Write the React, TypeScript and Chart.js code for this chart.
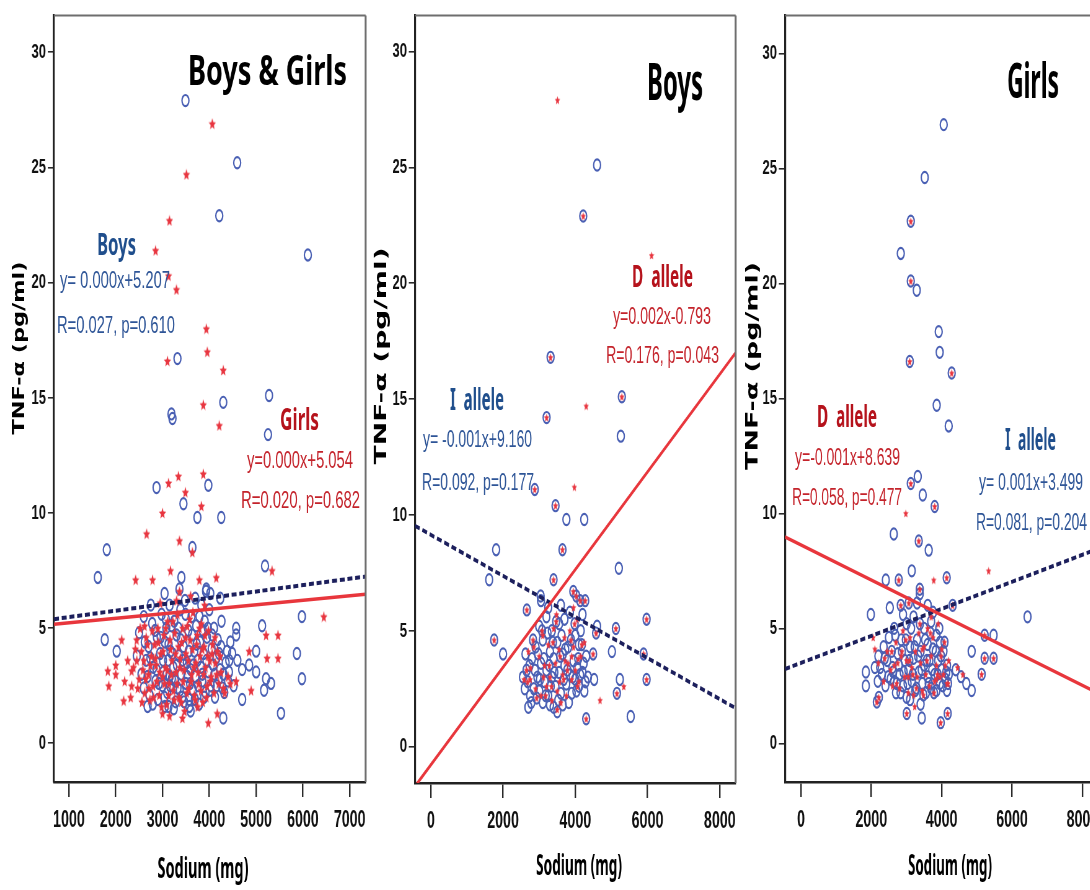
import React, { useEffect, useRef } from "react";
import { Chart, registerables } from "chart.js";
Chart.register(...registerables);

// horizontal squeeze of the whole figure (the reference is compressed sideways)
const K = 0.62;
const H = 890;

// ---------- tick labels ----------
const yTicks = [0, 5, 10, 15, 20, 25, 30];
const xTicksAll = [1000, 2000, 3000, 4000, 5000, 6000, 7000];
const xTicksSex = [0, 2000, 4000, 6000, 8000];

type P = [number, number];

// ---------- Panel 1: Boys & Girls ----------
const p1Boys: P[] = [
  [3490, 27.9], [4596, 25.2], [4213, 22.9], [6106, 21.2], [3319, 16.7], [5277, 15.1], [4298, 14.8],
  [3191, 14.3], [3213, 14.1], [5255, 13.4], [2872, 11.1], [3979, 11.2], [3447, 10.4], [3745, 9.8],
  [4255, 9.8], [1809, 8.4], [3638, 8.5], [1617, 7.2], [5191, 7.7], [3404, 7.2], [3936, 6.7],
  [3043, 6.5], [4021, 6.5], [4234, 6.3], [3362, 6.7], [3930, 6.6],
  [1766, 4.5], [2021, 4.0], [5979, 5.5], [5872, 3.9], [5979, 2.8], [5532, 1.3], [5128, 5.1],
  [5000, 4.0], [5213, 2.8], [5319, 2.6], [5170, 2.3], [5000, 3.1], [4851, 3.4], [4702, 1.9],
  [4702, 3.2], [4574, 5.0], [4574, 4.7], [4489, 3.9], [4426, 3.6], [4298, 1.1], [2681, 1.6],
  [3128, 1.6], [3574, 1.6],
  [2550, 3.0], [2600, 2.4], [2650, 3.6], [2700, 4.2], [2720, 2.1], [2780, 5.2], [2800, 3.3],
  [2850, 2.7], [2880, 4.6], [2900, 1.9], [2950, 3.9], [2980, 5.6], [3000, 2.5], [3020, 3.1],
  [3050, 4.4], [3080, 5.0], [3100, 2.2], [3120, 3.6], [3150, 6.0], [3170, 4.0], [3200, 2.8],
  [3230, 3.3], [3250, 5.3], [3280, 1.8], [3300, 4.7], [3320, 2.4], [3350, 3.8], [3380, 5.8],
  [3400, 3.0], [3420, 2.0], [3450, 4.2], [3480, 6.2], [3500, 2.6], [3520, 3.5], [3550, 4.9],
  [3570, 1.9], [3600, 3.2], [3620, 5.5], [3650, 2.3], [3680, 4.0], [3700, 2.9], [3720, 5.1],
  [3750, 3.6], [3780, 1.7], [3800, 4.4], [3830, 6.0], [3850, 2.7], [3880, 3.9], [3900, 5.3],
  [3920, 2.2], [3950, 4.6], [3980, 3.1], [4000, 5.8], [4030, 2.5], [4050, 4.1], [4080, 3.4],
  [4100, 5.0], [4120, 2.0], [4150, 3.7], [4180, 4.5], [4200, 2.8], [4230, 3.2], [4250, 4.2],
  [4280, 2.4], [4300, 3.0], [4350, 3.5], [4400, 2.7], [4450, 4.4], [2450, 3.8], [2500, 4.8],
  [2600, 5.5], [2750, 6.0], [3050, 1.6], [3600, 1.4], [3700, 6.3], [3150, 2.9], [3450, 3.4],
  [3850, 3.0],
  [2620, 4.4], [2680, 2.9], [2740, 3.7], [2790, 1.7], [2840, 4.9], [2870, 3.2], [2920, 2.6],
  [2960, 4.6], [3010, 3.6], [3040, 2.0], [3070, 5.4], [3090, 3.0], [3130, 4.3], [3160, 2.5],
  [3190, 5.1], [3210, 3.9], [3240, 1.5], [3270, 2.7], [3310, 3.4], [3340, 5.0], [3370, 2.3],
  [3390, 4.5], [3430, 3.6], [3460, 1.8], [3490, 5.6], [3530, 2.9], [3560, 4.0], [3590, 2.6],
  [3630, 4.7], [3660, 3.4], [3690, 1.9], [3730, 4.3], [3760, 2.5], [3790, 5.5], [3820, 3.3],
  [3860, 4.9], [3890, 2.0], [3940, 3.6], [3970, 5.0], [4010, 2.3], [4060, 4.7], [4110, 3.0],
  [4160, 2.5], [4210, 3.9], [4260, 5.3], [4320, 2.2], [4380, 4.0], [4420, 3.1], [4520, 2.5],
  [4600, 3.6],
];
const p1Girls: P[] = [
  [4064, 26.9], [3511, 24.7], [3149, 22.7], [2851, 21.4], [3128, 20.3], [3298, 19.7], [3936, 18.0],
  [3957, 17.0], [3106, 16.6], [4298, 16.2], [3872, 14.7], [4213, 13.8], [3128, 11.3], [3340, 11.6],
  [3872, 11.7], [3489, 10.9], [3830, 10.3], [3000, 10.0], [2660, 9.1], [3362, 8.8], [3638, 8.3],
  [5340, 7.5], [2425, 7.1], [2787, 7.1], [3170, 7.5], [3787, 7.1], [4149, 7.2], [3362, 6.6],
  [6447, 5.5], [5468, 4.7], [5468, 3.7], [5213, 4.7], [5234, 3.7], [4851, 4.0], [4894, 2.3],
  [4574, 2.7], [3979, 0.9], [4170, 1.3], [3426, 1.1], [3000, 1.3],
  [1830, 3.15], [1851, 2.5], [2000, 3.4], [2000, 3.0], [2170, 1.85], [2191, 2.7], [2128, 4.5],
  [2340, 2.5], [2319, 2.0], [2447, 4.5], [2255, 3.6], [2340, 3.15], [2617, 5.1],
  [2450, 3.6], [2500, 2.8], [2550, 4.0], [2580, 3.2], [2620, 2.2], [2650, 4.6], [2700, 3.0],
  [2730, 1.9], [2760, 3.8], [2800, 2.5], [2830, 4.3], [2860, 3.4], [2900, 5.0], [2930, 2.1],
  [2960, 3.9], [3000, 2.9], [3030, 4.7], [3060, 3.3], [3090, 1.7], [3110, 5.3], [3140, 2.6],
  [3170, 4.1], [3200, 3.6], [3230, 2.3], [3260, 4.8], [3290, 3.1], [3320, 5.6], [3350, 2.0],
  [3380, 3.7], [3410, 4.4], [3440, 2.7], [3470, 1.4], [3500, 3.9], [3530, 5.1], [3560, 2.4],
  [3590, 4.5], [3620, 3.0], [3650, 5.7], [3680, 2.1], [3710, 3.5], [3740, 4.7], [3770, 2.6],
  [3800, 3.8], [3830, 5.2], [3860, 1.8], [3890, 4.2], [3920, 3.3], [3950, 2.5], [3980, 4.9],
  [4010, 3.6], [4040, 2.9], [4070, 4.3], [4100, 2.2], [4130, 3.5], [4170, 4.0], [4200, 2.6],
  [4250, 3.1], [4300, 2.4], [4400, 2.9], [4450, 2.6], [3300, 6.2], [3600, 6.4], [3900, 6.0],
  [2950, 6.1], [3750, 1.6], [3150, 1.2],
  [2380, 3.3], [2420, 4.1], [2470, 2.4], [2520, 5.0], [2560, 1.8], [2600, 3.6], [2640, 2.8],
  [2680, 4.3], [2710, 2.4], [2740, 3.4], [2780, 4.9], [2810, 2.0], [2850, 3.7], [2880, 2.7],
  [2910, 4.4], [2940, 3.1], [2980, 1.6], [3010, 4.0], [3040, 2.6], [3070, 5.0], [3100, 3.2],
  [3130, 2.1], [3160, 4.5], [3190, 3.0], [3220, 5.3], [3250, 1.9], [3280, 3.9], [3310, 2.6],
  [3340, 4.2], [3370, 3.3], [3400, 1.8], [3430, 5.0], [3460, 3.2], [3490, 4.6], [3520, 2.2],
  [3550, 3.6], [3580, 5.4], [3610, 2.7], [3640, 4.1], [3670, 3.3], [3700, 1.9], [3730, 4.3],
  [3760, 3.1], [3790, 5.0], [3820, 2.3], [3850, 4.1], [3880, 3.0], [3910, 4.7], [3940, 2.0],
  [3970, 3.8], [4020, 2.7], [4060, 3.9], [4120, 4.6], [4160, 3.0], [4230, 3.8], [4330, 2.2],
];
const p1BoysFit: P[] = [[681, 5.39], [7340, 7.24]];
const p1GirlsFit: P[] = [[681, 5.17], [7340, 6.47]];

// ---------- Panel 2: Boys (I allele circles, D allele stars) ----------
const p2I: P[] = [
  [4603, 25.1], [4219, 22.9], [3315, 16.8], [3205, 14.2], [5288, 15.1], [5260, 13.4], [2877, 11.1],
  [3452, 10.4], [3753, 9.8], [4247, 9.8], [1808, 8.5], [3644, 8.5], [1616, 7.2], [5205, 7.7],
  [3397, 7.2], [3041, 6.5], [2658, 5.9], [1753, 4.6], [2000, 4.0], [5973, 5.5], [5890, 4.0],
  [5973, 2.9], [5534, 1.3], [4301, 1.2], [5233, 2.9], [5151, 2.3], [5123, 5.1], [5014, 4.1],
  [4603, 5.2], [4575, 4.9], [4493, 4.0], [4521, 2.9], [3945, 6.7], [4027, 6.5], [4137, 6.3],
  [4274, 6.3],
  [2600, 2.5], [2650, 3.3], [2700, 1.7], [2750, 2.2], [2800, 3.8], [2850, 2.5], [2900, 4.3],
  [2950, 3.0], [3000, 5.2], [3000, 2.4], [3050, 3.6], [3100, 4.6], [3100, 1.9], [3150, 2.8],
  [3200, 5.6], [3200, 3.3], [3250, 2.2], [3300, 4.1], [3350, 3.0], [3350, 5.0], [3400, 1.7],
  [3400, 3.8], [3450, 2.6], [3500, 4.5], [3500, 1.5], [3550, 3.2], [3550, 5.3], [3600, 2.3],
  [3650, 4.0], [3650, 1.8], [3700, 3.5], [3700, 5.5], [3750, 2.7], [3800, 4.3], [3850, 3.1],
  [3850, 5.8], [3900, 2.3], [3950, 3.7], [4000, 4.8], [4000, 2.9], [4050, 3.4], [4100, 4.4],
  [4100, 2.6], [4150, 5.0], [4200, 3.2], [4250, 2.4], [4300, 3.9], [4350, 3.0], [3050, 6.3],
  [3250, 6.0], [2550, 3.0], [3300, 1.8], [3600, 6.1], [4200, 5.7],
  [2620, 4.0], [2680, 2.8], [2730, 3.5], [2780, 1.9], [2830, 4.6], [2880, 3.3], [2930, 2.1],
  [2970, 4.0], [3020, 2.9], [3080, 5.0], [3130, 3.8], [3180, 2.2], [3230, 4.9], [3280, 3.5],
  [3320, 2.6], [3380, 4.5], [3420, 3.2], [3470, 5.4], [3530, 2.0], [3580, 3.9], [3620, 4.8],
  [3680, 2.9], [3720, 4.2], [3780, 3.3], [3820, 1.9], [3880, 4.6], [3930, 3.0], [3980, 5.3],
  [4030, 2.4], [4080, 3.8], [4130, 3.1], [4180, 4.4], [4230, 3.6], [4280, 2.8],
];
const p2D: P[] = [
  [4219, 22.9], [3315, 16.8], [3205, 14.2], [5288, 15.1], [2877, 11.1], [3452, 10.4], [3644, 8.5],
  [3397, 7.2], [2658, 5.9], [1753, 4.6], [5973, 5.5], [5890, 4.0], [5973, 2.9], [4301, 1.2],
  [5151, 2.3], [5123, 5.1], [4575, 4.9], [4493, 4.0], [3945, 6.7], [4027, 6.5], [4137, 6.3],
  [4274, 6.3],
  [3507, 27.9], [6110, 21.2], [4301, 14.7], [3973, 11.2], [3479, 5.7], [4685, 2.0], [5342, 2.6],
  [2650, 3.3], [2750, 2.9], [2850, 4.3], [2900, 2.5], [3000, 3.9], [3050, 2.2], [3100, 4.8],
  [3150, 3.5], [3200, 2.6], [3250, 4.4], [3300, 3.0], [3350, 2.0], [3400, 5.1], [3450, 3.6],
  [3500, 2.4], [3550, 4.2], [3600, 1.9], [3650, 3.1], [3700, 4.7], [3750, 2.2], [3800, 3.6],
  [3850, 5.0], [3900, 2.9], [3950, 4.3], [4000, 3.3], [4050, 5.5], [4100, 2.8], [4150, 3.9],
  [4250, 4.5], [2580, 2.9], [2700, 4.1], [3500, 1.6], [3950, 6.0],
  [2680, 2.8], [2830, 4.6], [2930, 2.1], [3080, 5.0], [3180, 2.2], [3280, 3.5], [3380, 4.5],
  [3470, 5.4], [3580, 3.9], [3680, 2.9], [3780, 3.3], [3880, 4.6], [3980, 5.3], [4080, 3.8],
  [4180, 4.4], [2760, 3.4], [3120, 3.0], [3340, 2.6], [3560, 2.8], [3720, 3.7], [3900, 3.9],
  [4060, 2.6],
];
const p2IFit: P[] = [[-438, 9.53], [8438, 1.66]];
const p2DFit: P[] = [[-384, -1.6], [8438, 17.0]];

// ---------- Panel 3: Girls ----------
const p3I: P[] = [
  [4057, 26.9], [3518, 24.6], [3121, 22.7], [2837, 21.3], [3121, 20.1], [3291, 19.7], [3915, 17.9],
  [3943, 17.0], [3092, 16.6], [4284, 16.1], [3858, 14.7], [4199, 13.8], [3121, 11.3], [3319, 11.6],
  [3461, 10.8], [3801, 10.3], [2638, 9.1], [3348, 8.8], [3631, 8.4], [3149, 7.5], [2411, 7.1],
  [2780, 7.1], [4142, 7.2], [3376, 6.7], [3376, 6.5], [2525, 5.9], [1986, 5.6], [4312, 6.0],
  [3603, 6.0], [6440, 5.5], [5475, 4.7], [5220, 4.7], [5220, 3.7], [5475, 3.7], [5135, 3.0],
  [4851, 4.0], [4851, 2.3], [4170, 1.3], [3972, 0.9], [3433, 1.1], [3007, 1.3], [2156, 1.8],
  [2213, 2.0], [1844, 2.5], [1844, 3.1], [2184, 2.7], [2837, 6.0], [3064, 6.1],
  [2100, 3.3], [2200, 3.8], [2300, 3.0], [2350, 4.2], [2400, 2.5], [2450, 3.6], [2500, 4.6],
  [2550, 2.8], [2600, 3.3], [2650, 5.0], [2700, 2.2], [2750, 3.9], [2800, 3.0], [2850, 4.5],
  [2900, 2.5], [2950, 3.6], [3000, 5.2], [3000, 2.0], [3050, 3.2], [3100, 4.2], [3150, 2.7],
  [3200, 3.7], [3200, 5.5], [3250, 2.3], [3300, 4.5], [3350, 3.1], [3400, 1.7], [3400, 4.0],
  [3450, 2.6], [3500, 5.0], [3500, 3.4], [3550, 2.2], [3600, 4.3], [3600, 2.9], [3650, 3.6],
  [3700, 5.3], [3700, 2.4], [3750, 4.1], [3800, 3.0], [3850, 4.7], [3850, 2.3], [3900, 3.6],
  [3950, 4.4], [3950, 2.6], [4000, 3.2], [4050, 4.0], [4100, 2.8], [4150, 3.4], [4150, 2.3],
  [4200, 3.0], [4400, 3.2], [4550, 2.9], [4700, 2.6], [2650, 2.7], [3100, 1.9], [3300, 6.1],
  [3750, 5.7], [2900, 5.6],
  [2250, 3.3], [2380, 3.7], [2480, 2.9], [2580, 4.0], [2620, 3.1], [2680, 4.7], [2720, 2.6],
  [2780, 3.4], [2830, 2.2], [2870, 4.0], [2920, 3.1], [2980, 4.5], [3030, 2.6], [3080, 3.6],
  [3130, 5.0], [3180, 3.0], [3230, 4.2], [3280, 2.4], [3330, 3.8], [3380, 5.2], [3430, 3.2],
  [3480, 2.1], [3530, 4.5], [3580, 3.6], [3630, 2.6], [3680, 4.8], [3730, 3.2], [3780, 2.2],
  [3830, 4.0], [3880, 3.0], [3930, 5.0], [3980, 3.8], [4030, 2.5], [4080, 4.4], [4130, 3.1],
  [4180, 2.6],
];
const p3D: P[] = [
  [3121, 22.7], [3121, 20.1], [3092, 16.6], [4284, 16.1], [3121, 11.3], [3801, 10.3], [3348, 8.8],
  [2780, 7.1], [4142, 7.2], [3376, 6.7], [4312, 6.0], [5220, 4.7], [5220, 3.7], [5135, 3.0],
  [4170, 1.3], [3972, 0.9], [3007, 1.3], [2156, 1.8], [2213, 2.0], [2837, 6.0], [3064, 6.1],
  [5475, 3.7],
  [2979, 10.0], [3773, 7.1], [5333, 7.5], [3234, 1.6],
  [2050, 4.6], [2100, 4.1], [2200, 3.5], [2350, 2.7], [2450, 4.0], [2550, 3.2], [2600, 2.5],
  [2700, 4.4], [2750, 3.5], [2800, 2.4], [2850, 3.8], [2900, 4.9], [2950, 2.9], [3000, 3.6],
  [3050, 2.2], [3100, 4.6], [3150, 3.3], [3200, 2.1], [3250, 4.0], [3300, 2.9], [3350, 4.8],
  [3400, 3.5], [3450, 2.3], [3500, 4.2], [3550, 3.0], [3600, 5.0], [3650, 2.5], [3700, 3.8],
  [3750, 4.6], [3800, 2.7], [3850, 3.4], [3900, 5.2], [3950, 2.9], [4000, 4.1], [4050, 3.0],
  [4150, 2.6], [4200, 3.6], [4450, 3.3], [4600, 3.0], [3700, 5.5],
  [2380, 3.7], [2580, 4.0], [2720, 2.6], [2870, 4.0], [2980, 4.5], [3080, 3.6], [3180, 3.0],
  [3280, 2.4], [3380, 5.2], [3480, 2.1], [3580, 3.6], [3680, 4.8], [3780, 2.2], [3880, 3.0],
  [3980, 3.8], [4080, 4.4], [4180, 2.6], [2650, 3.4], [3050, 2.9], [3450, 4.1], [3850, 2.8],
  [4100, 3.4],
];
const p3IFit: P[] = [[-454, 3.23], [8510, 8.5]];
const p3DFit: P[] = [[-454, 8.97], [8510, 2.13]];

// ---------- styles ----------
const CIRCLE = "#4a60b4";
const STAR = "#e8353f";
const NAVY = "#1c1f5c";
const RED_LINE = "#e8363c";
const BLUE_TXT = "#1f4e8c";
const BLUE_EQ = "#2e5597";
const RED_TXT = "#b5121b";
const RED_EQ = "#c4232b";

type Txt = { text: string; x: number; y: number; w: number; size: number; color: string; bold?: boolean; family: string };

const TITLE_F = '"Noto Sans", "Open Sans", sans-serif';
const EQ_F = '"Liberation Sans", Arial, sans-serif';

type Panel = {
  L: number; R: number;
  area: { l: number; r: number; t: number; b: number };
  xMin: number; xMax: number; yMin: number; yMax: number;
  xTicks: number[];
  circles: P[]; stars: P[]; dotted: P[]; solid: P[];
  starSize: number;
  texts: Txt[];
  xTitle: { cx: number; y: number; w: number };
  yTitle: { cx: number; cy: number; len: number; thick: number };
};

const panels: Panel[] = [
  {
    L: 0, R: 372, area: { l: 54, r: 367, t: 10, b: 782 },
    xMin: 681, xMax: 7340, yMin: -1.68, yMax: 31.59, xTicks: xTicksAll,
    circles: p1Boys, stars: p1Girls, dotted: p1BoysFit, solid: p1GirlsFit, starSize: 12,
    texts: [
      { text: "Boys & Girls", x: 188, y: 85, w: 159, size: 42, color: "#000", bold: true, family: TITLE_F },
      { text: "Boys", x: 97, y: 255, w: 39, size: 31, color: BLUE_TXT, bold: true, family: TITLE_F },
      { text: "y= 0.000x+5.207", x: 60, y: 288, w: 110, size: 23, color: BLUE_EQ, family: EQ_F },
      { text: "R=0.027, p=0.610", x: 57, y: 333, w: 118, size: 24, color: BLUE_EQ, family: EQ_F },
      { text: "Girls", x: 280, y: 430, w: 39, size: 31, color: RED_TXT, bold: true, family: TITLE_F },
      { text: "y=0.000x+5.054", x: 247, y: 468, w: 106, size: 23, color: RED_EQ, family: EQ_F },
      { text: "R=0.020, p=0.682", x: 241, y: 508, w: 119, size: 24, color: RED_EQ, family: EQ_F },
    ],
    xTitle: { cx: 203, y: 878, w: 91 },
    yTitle: { cx: 20, cy: 348, len: 173, thick: 12 },
  },
  {
    L: 370, R: 742, area: { l: 415, r: 739, t: 4, b: 783 },
    xMin: -438, xMax: 8438, yMin: -1.57, yMax: 31.55, xTicks: xTicksSex,
    circles: p2I, stars: p2D, dotted: p2IFit, solid: p2DFit, starSize: 9,
    texts: [
      { text: "Boys", x: 647, y: 100, w: 56, size: 52, color: "#000", bold: true, family: TITLE_F },
      { text: "D  allele", x: 632, y: 287, w: 61, size: 31, color: RED_TXT, bold: true, family: TITLE_F },
      { text: "y=0.002x-0.793", x: 613, y: 324, w: 98, size: 23, color: RED_EQ, family: EQ_F },
      { text: "R=0.176, p=0.043", x: 606, y: 363, w: 113, size: 24, color: RED_EQ, family: EQ_F },
      { text: "I  allele", x: 450, y: 410, w: 54, size: 31, color: BLUE_TXT, bold: true, family: TITLE_F },
      { text: "y= -0.001x+9.160", x: 423, y: 447, w: 109, size: 23, color: BLUE_EQ, family: EQ_F },
      { text: "R=0.092, p=0.177", x: 422, y: 490, w: 112, size: 24, color: BLUE_EQ, family: EQ_F },
    ],
    xTitle: { cx: 579, y: 875, w: 86 },
    yTitle: { cx: 382, cy: 356, len: 217, thick: 12 },
  },
  {
    L: 742, R: 1105, area: { l: 785, r: 1101, t: 10, b: 782 },
    xMin: -454, xMax: 8510, yMin: -1.68, yMax: 31.64, xTicks: xTicksSex,
    circles: p3I, stars: p3D, dotted: p3IFit, solid: p3DFit, starSize: 9,
    texts: [
      { text: "Girls", x: 1007, y: 98, w: 52, size: 49, color: "#000", bold: true, family: TITLE_F },
      { text: "D  allele", x: 817, y: 427, w: 60, size: 31, color: RED_TXT, bold: true, family: TITLE_F },
      { text: "y=-0.001x+8.639", x: 795, y: 465, w: 105, size: 23, color: RED_EQ, family: EQ_F },
      { text: "R=0.058, p=0.477", x: 792, y: 505, w: 110, size: 24, color: RED_EQ, family: EQ_F },
      { text: "I  allele", x: 1005, y: 450, w: 51, size: 31, color: BLUE_TXT, bold: true, family: TITLE_F },
      { text: "y= 0.001x+3.499", x: 979, y: 490, w: 104, size: 23, color: BLUE_EQ, family: EQ_F },
      { text: "R=0.081, p=0.204", x: 976, y: 530, w: 111, size: 24, color: BLUE_EQ, family: EQ_F },
    ],
    xTitle: { cx: 950, y: 875, w: 84 },
    yTitle: { cx: 753, cy: 366, len: 208, thick: 12 },
  },
];

function makeStar(size: number, color: string): HTMLCanvasElement {
  const c = document.createElement("canvas");
  c.width = size;
  c.height = size;
  const g = c.getContext("2d")!;
  g.fillStyle = color;
  g.beginPath();
  const cx = size / 2, cy = size / 2 + size * 0.05, R = size / 2, r = R * 0.45;
  for (let i = 0; i < 10; i++) {
    const a = -Math.PI / 2 + (i * Math.PI) / 5;
    const rr = i % 2 ? r : R;
    g.lineTo(cx + rr * Math.cos(a), cy + rr * Math.sin(a));
  }
  g.closePath();
  g.fill();
  return c;
}

function drawFitText(ctx: CanvasRenderingContext2D, t: Txt, L: number) {
  ctx.save();
  ctx.font = `${t.bold ? "bold " : ""}${t.size}px ${t.family}`;
  ctx.fillStyle = t.color;
  ctx.textAlign = "left";
  ctx.textBaseline = "alphabetic";
  const m = ctx.measureText(t.text).width;
  const sx = t.w / K / m;
  ctx.translate((t.x - L) / K, t.y);
  ctx.scale(sx, 1);
  ctx.fillText(t.text, 0, 0);
  ctx.restore();
}

const toXY = (arr: P[]) => arr.map(([x, y]) => ({ x, y }));

function PanelChart({ p }: { p: Panel }) {
  const ref = useRef<HTMLCanvasElement>(null);
  const cw = Math.round((p.R - p.L) / K);

  useEffect(() => {
    const canvas = ref.current!;
    const starImg = makeStar(p.starSize, STAR);
    const deco = {
      id: "deco",
      afterDraw(chart: any) {
        const ctx: CanvasRenderingContext2D = chart.ctx;
        const a = chart.chartArea;
        ctx.save();
        ctx.strokeStyle = "#6e6e6e";
        ctx.lineWidth = 2;
        ctx.beginPath();
        ctx.moveTo(a.left, a.top);
        ctx.lineTo(a.right, a.top);
        ctx.stroke();
        ctx.lineWidth = 2 / K;
        ctx.beginPath();
        ctx.moveTo(a.right, a.top);
        ctx.lineTo(a.right, a.bottom);
        ctx.stroke();
        ctx.restore();

        for (const t of p.texts) drawFitText(ctx, t, p.L);

        // x axis title
        drawFitText(
          ctx,
          { text: "Sodium (mg)", x: p.xTitle.cx - p.xTitle.w / 2, y: p.xTitle.y, w: p.xTitle.w, size: 28, color: "#000", bold: true, family: TITLE_F },
          p.L
        );

        // y axis title (rotated)
        ctx.save();
        const fs = p.yTitle.thick / K / 0.73;
        ctx.font = `bold ${fs}px "DejaVu Sans", sans-serif`;
        ctx.fillStyle = "#000";
        ctx.textAlign = "center";
        ctx.textBaseline = "middle";
        const label = "TNF-α (pg/ml)";
        const m = ctx.measureText(label).width;
        ctx.translate((p.yTitle.cx - p.L) / K, p.yTitle.cy);
        ctx.rotate(-Math.PI / 2);
        ctx.scale(p.yTitle.len / m, 1);
        ctx.fillText(label, 0, 0);
        ctx.restore();
      },
    };

    const tickFont = { family: '"Liberation Sans Narrow", "Liberation Sans", Arial, sans-serif', weight: "bold" as const };

    const chart = new Chart(canvas, {
      type: "scatter",
      data: {
        datasets: [
          {
            data: toXY(p.solid), showLine: true, borderColor: RED_LINE, borderWidth: 3.5,
            pointRadius: 0, fill: false,
          } as any,
          {
            data: toXY(p.dotted), showLine: true, borderColor: NAVY, borderWidth: 4,
            borderDash: [8, 4.5], pointRadius: 0, fill: false,
          } as any,
          {
            data: toXY(p.stars), pointStyle: starImg, pointRadius: p.starSize / 2,
            backgroundColor: STAR, borderColor: STAR,
          } as any,
          {
            data: toXY(p.circles), pointStyle: "circle", pointRadius: 5.6, pointBorderWidth: 2.2,
            borderColor: CIRCLE, backgroundColor: "rgba(0,0,0,0)",
          } as any,
        ],
      },
      options: {
        animation: false,
        responsive: false,
        maintainAspectRatio: false,
        devicePixelRatio: 1,
        events: [],
        layout: {
          autoPadding: false,
          padding: { top: p.area.t, right: (p.R - p.area.r) / K, left: 0, bottom: 0 },
        } as any,
        plugins: { legend: { display: false }, tooltip: { enabled: false }, title: { display: false } },
        scales: {
          x: {
            type: "linear",
            min: p.xMin,
            max: p.xMax,
            afterBuildTicks: (s: any) => { s.ticks = p.xTicks.map((v) => ({ value: v })); },
            afterFit: (s: any) => { s.height = H - p.area.b; },
            ticks: {
              font: { ...tickFont, size: 23 }, color: "#111", padding: 10, maxRotation: 0, autoSkip: false,
              callback: (v: any) => String(v),
            },
            grid: { drawOnChartArea: false, drawTicks: true, tickLength: 15, color: "#2a2a2a", lineWidth: 2.4 },
            border: { display: true, color: "#222", width: 2.5 },
          },
          y: {
            type: "linear",
            min: p.yMin,
            max: p.yMax,
            afterBuildTicks: (s: any) => { s.ticks = yTicks.map((v) => ({ value: v })); },
            afterFit: (s: any) => { s.width = (p.area.l - p.L) / K; },
            ticks: {
              font: { ...tickFont, size: 21 }, color: "#111", padding: 3, autoSkip: false,
              callback: (v: any) => String(v),
            },
            grid: { drawOnChartArea: false, drawTicks: true, tickLength: 10, color: "#2a2a2a", lineWidth: 1.6 },
            border: { display: true, color: "#222", width: 3.2 },
          },
        },
      } as any,
      plugins: [deco],
    });
    return () => chart.destroy();
  }, []);

  return (
    <div
      style={{
        position: "absolute", left: p.L, top: 0, width: cw, height: H,
        transform: `scaleX(${K})`, transformOrigin: "0 0",
      }}
    >
      <canvas ref={ref} width={cw} height={H} style={{ display: "block" }} />
    </div>
  );
}

export default function App() {
  return (
    <div
      style={{
        position: "absolute", left: 0, top: 0, width: 1090, height: H,
        overflow: "hidden", background: "#fff",
      }}
    >
      {panels.map((p, i) => (
        <PanelChart key={i} p={p} />
      ))}
    </div>
  );
}
